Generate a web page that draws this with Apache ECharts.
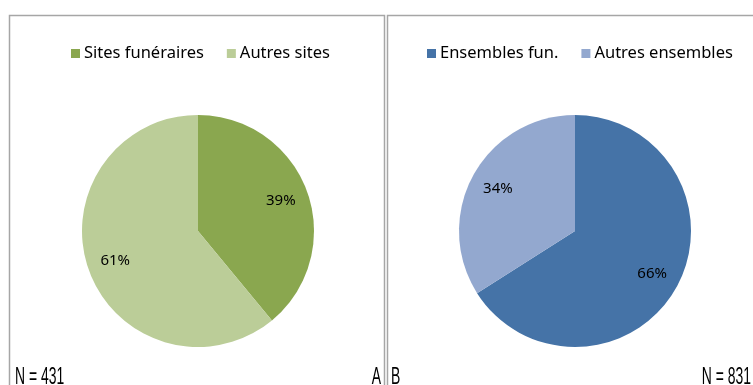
<!DOCTYPE html>
<html>
<head>
<meta charset="utf-8">
<script src="https://cdn.jsdelivr.net/npm/echarts@6/dist/echarts.min.js"></script>
<style>
  html, body { margin: 0; padding: 0; background: #fff; }
  #chart { width: 753px; height: 385px; }
</style>
</head>
<body>
<div id="chart"></div>
<script>
// Panel A: sites
const sitesNames = ['Sites funéraires', 'Autres sites'];
const sitesValues = [39, 61];
const sitesColors = ['#8aa74f', '#bbcd98'];
const sitesN = 'N = 431';

// Panel B: ensembles
const ensNames = ['Ensembles fun.', 'Autres ensembles'];
const ensValues = [66, 34];
const ensColors = ['#4573a7', '#93a8cf'];
const ensN = 'N = 831';

const chart = echarts.init(document.getElementById('chart'), null, { renderer: 'canvas' });

const font = 'Noto Sans';
const R = 116;

function toData(names, values, colors) {
  return names.map((n, i) => ({ name: n, value: values[i], itemStyle: { color: colors[i] } }));
}

function pieSeries(names, values, colors, cx) {
  return [
    {
      type: 'pie',
      center: [cx, 231],
      radius: [0, R],
      startAngle: 90,
      clockwise: true,
      silent: true,
      label: { show: false },
      labelLine: { show: false },
      itemStyle: { borderWidth: 0 },
      data: toData(names, values, colors)
    },
    {
      // transparent ring used to place the percentage labels
      type: 'pie',
      center: [cx, 231],
      radius: [66, 104],
      startAngle: 90,
      clockwise: true,
      silent: true,
      legendHoverLink: false,
      itemStyle: { color: 'rgba(0,0,0,0)', borderWidth: 0 },
      label: {
        show: true,
        position: 'inside',
        color: '#000',
        fontFamily: font,
        fontSize: 15,
        formatter: p => p.value + '%'
      },
      labelLine: { show: false },
      data: names.map((n, i) => ({ name: n, value: values[i] }))
    }
  ];
}

const legendBase = {
  top: 40,
  icon: 'rect',
  itemWidth: 9,
  itemHeight: 9,
  itemGap: 23,
  selectedMode: false,
  textStyle: { fontFamily: font, fontSize: 16.5, color: '#000', padding: [0, 0, 0, -1] }
};

const noteFont = '24px "Liberation Sans", sans-serif';
function note(text, x, anchorRight) {
  return {
    type: 'text', x: x, y: 365, scaleX: 0.58, silent: true,
    style: { text: text, font: noteFont, fill: '#000', align: anchorRight ? 'right' : 'left', verticalAlign: 'top' }
  };
}

chart.setOption({
  animation: false,
  backgroundColor: '#fff',
  legend: [
    Object.assign({}, legendBase, { data: sitesNames, left: 66 }),
    Object.assign({}, legendBase, { data: ensNames, left: 422 })
  ],
  series: [
    ...pieSeries(sitesNames, sitesValues, sitesColors, 198),
    ...pieSeries(ensNames, ensValues, ensColors, 575)
  ],
  graphic: [
    { type: 'rect', shape: { x: 9.5, y: 15.5, width: 375, height: 400 },
      style: { fill: null, stroke: '#a6a6a6', lineWidth: 1.5 }, silent: true },
    { type: 'rect', shape: { x: 387.5, y: 15.5, width: 400, height: 400 },
      style: { fill: null, stroke: '#a6a6a6', lineWidth: 1.5 }, silent: true },
    note(sitesN, 15, false),
    note('A', 381, true),
    note('B', 391, false),
    note(ensN, 751, true)
  ]
});
</script>
</body>
</html>
